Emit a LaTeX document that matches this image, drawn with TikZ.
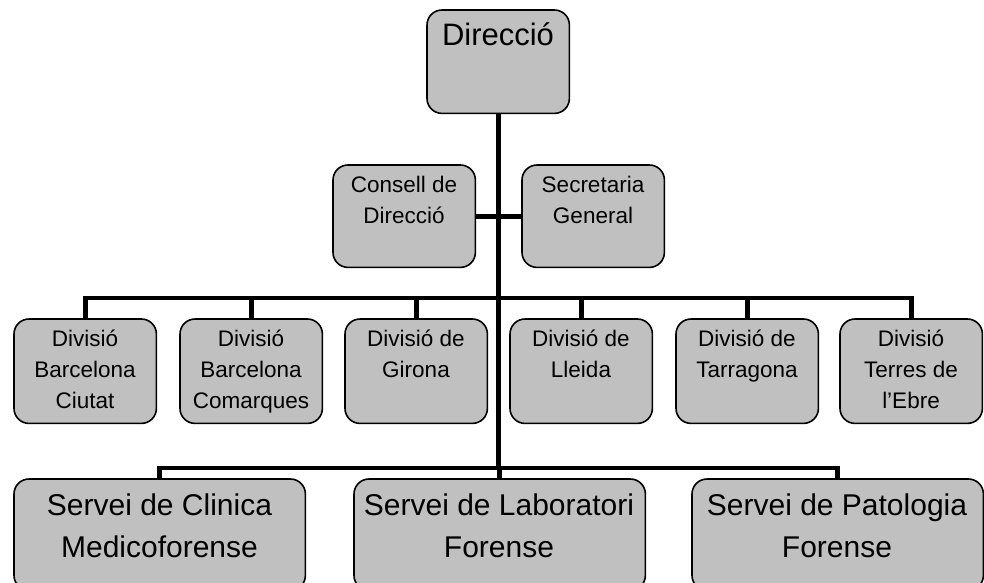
\documentclass[tikz,border=0pt]{standalone}
\usepackage{fontspec}
\setmainfont{Liberation Sans}
\definecolor{boxgray}{HTML}{C0C0C0}
\begin{document}
\begin{tikzpicture}[x=1pt,y=-1pt,
  box/.style={inner sep=0pt, anchor=north west, rectangle},
  conn/.style={line width=4.6pt, line cap=butt, line join=miter},
  boxdraw/.style={draw=black, line width=1.6pt, fill=boxgray, rounded corners=15pt},
  toptext/.style={font=\fontsize{31}{40}\selectfont, align=center, anchor=base, inner sep=0pt},
  smalltext/.style={font=\fontsize{22.5}{31}\selectfont, align=center, anchor=base, inner sep=0pt},
  bigtext/.style={font=\fontsize{30}{42}\selectfont, align=center, anchor=base, inner sep=0pt},
  divbox/.style={box, minimum width=142pt, minimum height=104pt},
  svcbox/.style={box, minimum width=291pt, minimum height=111pt}]
\useasboundingbox (0,0) rectangle (984,582);
\clip (0,0) rectangle (984,582);
% box frames (named nodes; drawn below)
\node[box, minimum width=142pt, minimum height=103pt] (dir) at (427,10) {};
\node[divbox, minimum height=102pt] (cons) at (333,165) {};
\node[divbox, minimum height=102pt] (sec) at (522,165) {};
\node[divbox] (d1) at (14,319) {};
\node[divbox] (d2) at (180,319) {};
\node[divbox] (d3) at (345,319) {};
\node[divbox] (d4) at (510,319) {};
\node[divbox] (d5) at (676,319) {};
\node[divbox] (d6) at (840,319) {};
\node[svcbox] (s1) at (14,479) {};
\node[svcbox] (s2) at (354,479) {};
\node[svcbox] (s3) at (692,479) {};
\coordinate (busA) at (498,298);
\coordinate (busB) at (498,468);
% connectors
\draw[conn] (dir.south) -- (dir.south |- busB);
\draw[conn] (cons.east) -- (sec.west);
\draw[conn] (d1.north) -- (d1.north |- busA) -| (d6.north);
\foreach \n in {d2,d3,d4,d5} \draw[conn] (\n.north) -- (\n.north |- busA);
\draw[conn] (s1.north) -- (s1.north |- busB) -| (s3.north);
\draw[conn] (s2.north) -- (s2.north |- busB);
% boxes on top of connector ends
\foreach \n in {dir,cons,sec,d1,d2,d3,d4,d5,d6,s1,s2,s3}
  \draw[boxdraw] (\n.north west) rectangle (\n.south east);
% texts (anchor=base is the last line's baseline)
\node[toptext] (dirt) at (498,45) {Direcció};
\node[smalltext] (const) at (404,223) {Consell de\\Direcció};
\node[smalltext] (sect) at (593,223) {Secretaria\\General};
\node[smalltext] (d1t) at (85,408) {Divisió\\Barcelona\\Ciutat};
\node[smalltext] (d2t) at (251,408) {Divisió\\Barcelona\\Comarques};
\node[smalltext] (d3t) at (416,377) {Divisió de\\Girona};
\node[smalltext] (d4t) at (581,377) {Divisió de\\Lleida};
\node[smalltext] (d5t) at (747,377) {Divisió de\\Tarragona};
\node[smalltext] (d6t) at (911,408) {Divisió\\Terres de\\l’Ebre};
\node[bigtext] (s1t) at (159.5,557) {Servei de Clinica\\Medicoforense};
\node[bigtext] (s2t) at (499,557) {Servei de Laboratori\\Forense};
\node[bigtext] (s3t) at (837,557) {Servei de Patologia\\Forense};
\end{tikzpicture}
\end{document}
